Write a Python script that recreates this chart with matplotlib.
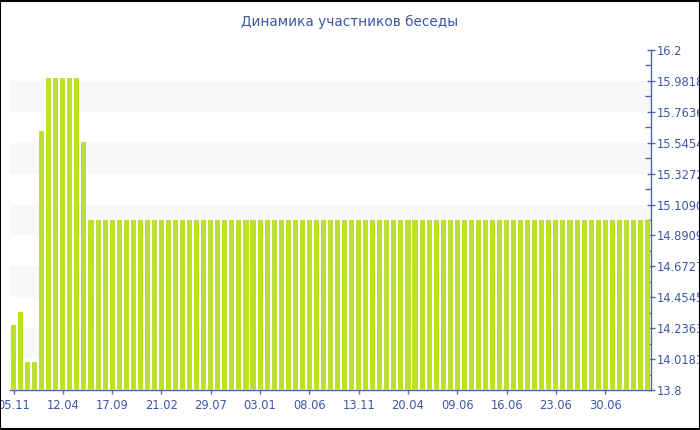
import matplotlib
matplotlib.use("Agg")
import matplotlib.pyplot as plt
from matplotlib.patches import Rectangle
import numpy as np

title = "Динамика участников беседы"
head_values = [14.26, 14.35, 14.0, 14.0, 15.63, 16.0, 16.0, 16.0, 16.0, 16.0, 15.55]
tail_value_count = 80
values = head_values + [15.0] * tail_value_count
tick_labels = ["05.11", "12.04", "17.09", "21.02", "29.07", "03.01", "08.06",
               "13.11", "20.04", "09.06", "16.06", "23.06", "30.06"]
tick_step = 7
y_min, y_max = 13.8, 16.2
n_major = 11

text_color = "#3d57a3"
axis_color = "#5068a8"
bar_color = "#bde02d"
band_color = "#f8f8f8"

fig = plt.figure(figsize=(7.0, 4.3), dpi=100)
ax = fig.add_axes([10/700, 40/430, 641/700, 340/430])

n = len(values)
x = np.arange(n)
ax.bar(x, [v - y_min for v in values], bottom=y_min, width=0.72, color=bar_color,
       zorder=3, linewidth=0)
ax.set_xlim(-0.5, n - 0.5)
ax.set_ylim(y_min, y_max)

major = np.linspace(y_min, y_max, n_major + 1)
for i in range(1, n_major, 2):
    ax.axhspan(major[i], major[i + 1], color=band_color, zorder=0, lw=0)

def trunc(v):
    s = "%.6f" % v
    return s[:s.index(".") + 5]

ax.yaxis.tick_right()
ax.set_yticks(major)
ax.set_yticklabels([trunc(v) if i not in (0, n_major) else ("%g" % v) for i, v in enumerate(major)])
minor = (major[:-1] + major[1:]) / 2
ax.set_yticks(minor, minor=True)
ax.tick_params(axis="y", which="major", direction="inout", length=6, width=1,
               color=axis_color, labelcolor=text_color, labelsize=8.3, pad=1)
ax.tick_params(axis="y", which="minor", direction="in", length=4, width=1,
               color=axis_color)

tick_pos = np.arange(0, tick_step * len(tick_labels), tick_step)
ax.set_xticks(tick_pos)
ax.set_xticklabels(tick_labels)
ax.tick_params(axis="x", which="major", direction="out", length=3, width=1,
               color=axis_color, labelcolor=text_color, labelsize=8.3, pad=3.5)

for s in ["top", "left"]:
    ax.spines[s].set_visible(False)
for s in ["right", "bottom"]:
    ax.spines[s].set_color(axis_color)
    ax.spines[s].set_linewidth(1)

fig.text(350/700, 1 - 22/430, title, ha="center", va="center", color=text_color,
         fontsize=9.8)

fig.patches.append(Rectangle((0.0007, 0.0012), 0.9986, 0.9976, transform=fig.transFigure,
                             fill=False, edgecolor="black", linewidth=1.5))

fig.savefig("out.png", dpi=100)
